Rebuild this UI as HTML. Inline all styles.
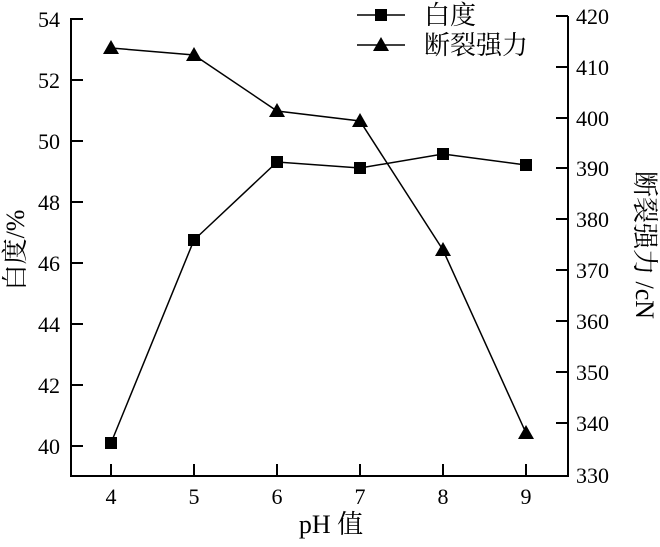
<!DOCTYPE html><html><head><meta charset="utf-8"><style>body{margin:0;background:#fff}svg text{font-family:"Liberation Serif","Noto Serif CJK SC",serif;font-size:22px;fill:#000}svg text.c{font-size:26px}</style></head><body>
<svg width="660" height="542" viewBox="0 0 660 542">
<g stroke="#000" stroke-width="2" fill="none">
<path d="M71,18V476H568V16"/>
<path d="M71,19h12M71,80h12M71,141h12M71,202h12M71,263h12M71,324h12M71,385h12M71,446h12"/>
<path d="M568,16h-12M568,67h-12M568,118h-12M568,168h-12M568,219h-12M568,270h-12M568,321h-12M568,372h-12M568,423h-12"/>
<path d="M111,476v-12M194,476v-12M277,476v-12M360,476v-12M443,476v-12M526,476v-12"/>
<polyline stroke-width="1.5" points="111,443 194,240 277,162 360,168 443,154 526,165"/>
<polyline stroke-width="1.5" points="111,48 194,55 277,111 360,121 443,250 526,433"/>
<path stroke-width="1.5" d="M357,15h48M357,45h48"/>
</g>
<g fill="#000">
<rect x="105" y="437" width="12" height="12"/><rect x="188" y="234" width="12" height="12"/><rect x="271" y="156" width="12" height="12"/><rect x="354" y="162" width="12" height="12"/><rect x="437" y="148" width="12" height="12"/><rect x="520" y="159" width="12" height="12"/>
<rect x="375" y="9" width="12" height="12"/>
<path d="M111,40l-8,14h16zM194,47l-8,14h16zM277,103l-8,14h16zM360,113l-8,14h16zM443,242l-8,14h16zM526,425l-8,14h16zM381,37l-8,14h16z"/>
</g>
<g text-anchor="end"><text x="60" y="27">54</text><text x="60" y="88">52</text><text x="60" y="149">50</text><text x="60" y="210">48</text><text x="60" y="271">46</text><text x="60" y="332">44</text><text x="60" y="393">42</text><text x="60" y="454">40</text></g>
<g><text x="576" y="24">420</text><text x="576" y="75">410</text><text x="576" y="126">400</text><text x="576" y="176">390</text><text x="576" y="227">380</text><text x="576" y="278">370</text><text x="576" y="329">360</text><text x="576" y="380">350</text><text x="576" y="431">340</text><text x="576" y="483">330</text></g>
<g text-anchor="middle"><text x="111" y="504">4</text><text x="194" y="504">5</text><text x="277" y="504">6</text><text x="360" y="504">7</text><text x="443" y="504">8</text><text x="526" y="504">9</text>
<text class="c" x="331" y="533">pH 值</text></g>
<text class="c" x="424" y="24">白度</text><text class="c" x="424" y="54">断裂强力</text>
<text class="c" transform="translate(24,250) rotate(-90)" text-anchor="middle">白度/%</text>
<text class="c" transform="translate(636,245) rotate(90)" text-anchor="middle">断裂强力 /cN</text>
</svg></body></html>
